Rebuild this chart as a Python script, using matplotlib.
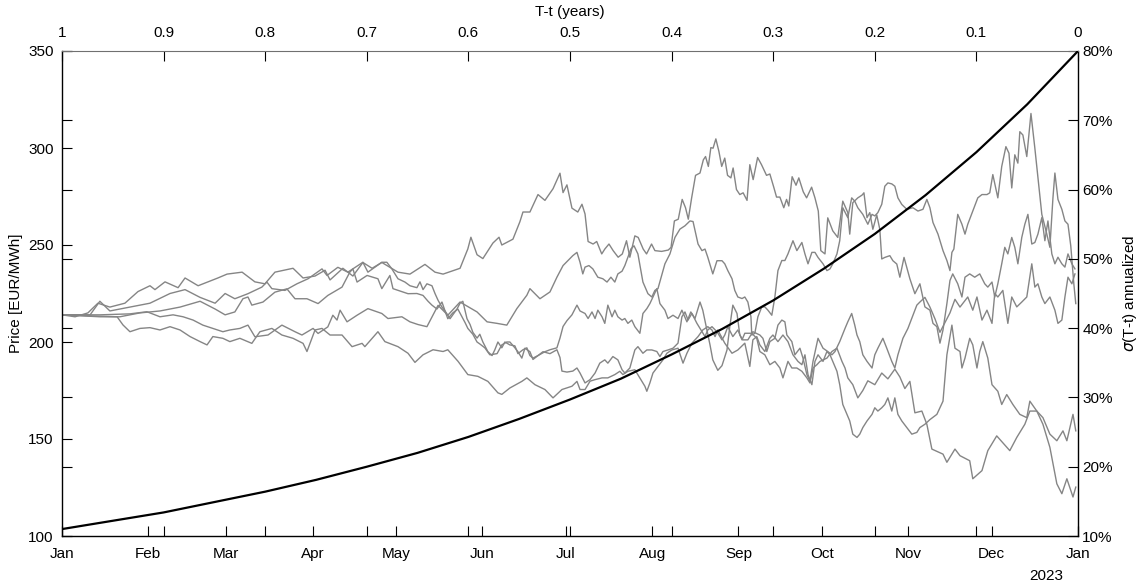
import numpy as np
import matplotlib
matplotlib.use("Agg")
import matplotlib.pyplot as plt

plt.rcParams['font.family'] = ['Liberation Sans', 'DejaVu Sans']
plt.rcParams['font.size'] = 11
plt.rcParams['mathtext.fontset'] = 'dejavusans'

# ---- simulated forward price paths: (day of 2022, price in EUR/MWh) ----
path_a = [(0, 214), (4.7, 213), (9.3, 215), (12.9, 220), (17.2, 218), (22.6, 220), (27.3, 226),
          (31.6, 229), (33.4, 227), (37.0, 231), (41.7, 228), (44.2, 233), (48.9, 229), (56.0, 233),
          (59.3, 235), (64.7, 236), (69.3, 231), (72.9, 230), (76.5, 236), (83.0, 238), (86.6, 233),
          (90.9, 234), (94.5, 237), (96.3, 232), (100.9, 238), (104.5, 234), (108.1, 241),
          (111.4, 238), (114.9, 241), (120.7, 236), (125.0, 235), (130.4, 240), (134.0, 236),
          (136.9, 235), (143.0, 238), (145.8, 248), (146.9, 254), (149.1, 245), (151.2, 243),
          (154.8, 251), (157.0, 254), (158.0, 250), (162.0, 253), (164.5, 262), (165.6, 267),
          (168.1, 267), (171.0, 276), (173.5, 273), (176.4, 279), (178.9, 287), (180.0, 277),
          (181.4, 281), (183.2, 269), (185.3, 267), (186.8, 271), (187.9, 266),
          (189.0, 251.8), (190.8, 250.5), (192.1, 251.8), (193.9, 245.4), (195.0, 247.9),
          (196.5, 250.5), (198.0, 247.1), (199.8, 243.7), (201.3, 245.4), (202.8, 252.2),
          (204.0, 243.7), (205.8, 254.7), (207.0, 253.9), (208.8, 247.9), (210.0, 245.4),
          (211.8, 250.5), (213.0, 247.1), (215.4, 246.7), (217.8, 247.4), (218.8, 248.8),
          (220.0, 262.4), (221.4, 263.3), (222.8, 273.5), (224.0, 269.2), (225.0, 263.3),
          (226.2, 274.3), (227.6, 285.9), (229.2, 287.1), (230.4, 293.9), (231.2, 295.6),
          (232.2, 290.5), (233.1, 300.2), (233.9, 299.9), (234.9, 304.7), (236.0, 298.2),
          (237.0, 290.5), (238.1, 294.8), (239.1, 285.9), (240.3, 284.6), (241.1, 289.7),
          (242.3, 278.6), (243.5, 276.0), (244.7, 276.9), (246.1, 273.0), (247.1, 291.4),
          (248.3, 283.7), (249.9, 295.1), (251.3, 291.4), (253.1, 285.9), (254.3, 286.6),
          (255.7, 279.8), (256.7, 274.7), (257.9, 274.7), (259.3, 269.2), (260.3, 273.5),
          (261.1, 270.1), (262.3, 285.2), (263.7, 280.8), (264.7, 284.6), (266.3, 277.4),
          (267.5, 274.3), (269.3, 279.8), (270.5, 274.3), (271.7, 267.5), (272.6, 247.1),
          (274.1, 245.4), (275.1, 264.0), (276.9, 257.3), (278.7, 253.9), (280.5, 272.6),
          (282.3, 266.7), (283.0, 255.6), (284.1, 271.8), (285.9, 274.3), (287.4, 275.7),
          (288.1, 276.9), (289.2, 264.1), (290.2, 266.7), (291.3, 258.1), (292.7, 265.5),
          (293.8, 258.1), (294.5, 242.8), (295.6, 243.6), (297.4, 244.5), (298.5, 241.9),
          (299.9, 240.2), (301.0, 233.4), (302.5, 243.6), (304.6, 232.6), (306.4, 224.9),
          (308.2, 230.0), (310.0, 218.1), (311.8, 216.4), (312.9, 209.6), (314.3, 207.9),
          (315.4, 199.4), (316.5, 206.2), (317.9, 219.8), (319.0, 231.7), (320.0, 235.1),
          (321.8, 230.0), (323.3, 223.2), (324.4, 233.4), (326.1, 235.1), (327.9, 233.4),
          (329.7, 235.1), (331.5, 230.0), (332.6, 228.3), (334.1, 230.9), (335.1, 223.2),
          (336.2, 230.0), (337.6, 240.3), (338.7, 248.8), (339.8, 245.4), (341.2, 253.9),
          (342.3, 248.8), (343.4, 240.3), (344.8, 253.9), (345.9, 260.7), (347.0, 265.8),
          (348.4, 250.5), (349.5, 251.3), (350.6, 255.6), (352.0, 264.1), (353.1, 252.2),
          (354.2, 262.4), (355.6, 245.4), (356.7, 240.3), (357.8, 243.7), (359.2, 240.3),
          (360.3, 238.6), (361.4, 245.4), (362.8, 240.3), (363.9, 237.7)]

path_b = [(0, 214), (13.6, 214), (24.4, 214.5), (30.5, 215.6), (35.2, 213), (39.9, 214),
          (43.5, 213), (47.1, 211.3), (50.6, 208.7), (54.2, 207), (57.8, 205.3), (60.3, 206.2),
          (63.9, 207), (66.8, 208.7), (69.3, 202.7), (74.0, 203.6), (79.0, 208.7), (83.7, 205.3),
          (86.2, 203.6), (90.2, 207), (92.0, 204.4), (95.5, 207.8), (97.3, 213.8), (98.8, 211.3),
          (99.9, 216.4), (102.4, 210.4), (106.0, 213.8), (109.9, 217.2), (114.9, 214.7),
          (117.1, 212.1), (122.1, 213), (125.0, 210.4), (127.9, 209), (131.1, 207.9),
          (135.1, 218.9), (138.6, 213.8), (143.0, 220.6), (149.1, 215.5), (152.7, 210.4),
          (156.3, 209.6), (159.8, 208.7), (163.4, 217.2), (167.0, 224.1), (168.1, 227.5),
          (171.7, 222.3), (175.3, 225.8), (177.8, 233.4), (180.0, 239.4), (183.5, 244.5),
          (185.0, 246.2), (186.1, 241.1), (187.1, 235.1), (187.9, 238.6),
          (189.3, 239.4), (190.7, 237.7), (192.5, 233.4), (194.3, 232.6), (195.8, 230.9),
          (197.2, 233.4), (198.6, 230.9), (199.7, 235.1), (201.2, 236.5), (202.2, 239.4),
          (203.3, 243.7), (204.4, 248.0), (205.5, 249.6), (206.9, 245.4), (208.7, 230.9),
          (210.5, 224.9), (211.9, 223.2), (213.0, 226.6), (214.1, 227.5), (216.6, 240.3),
          (218.4, 245.4), (220.2, 253.9), (222.0, 258.2), (223.8, 259.9), (225.6, 262.4),
          (226.7, 262.1), (227.7, 255.6), (228.5, 250.5), (229.9, 247.1), (231.0, 247.9),
          (232.0, 243.7), (233.8, 235.1), (235.3, 241.9), (237.1, 241.9), (238.1, 240.3),
          (239.2, 236.8), (240.7, 232.6), (241.7, 226.6), (242.8, 223.2), (244.3, 222.4),
          (245.3, 223.2), (246.4, 220.6), (247.5, 213.0), (247.8, 203.6), (248.9, 204.5),
          (250.0, 213.0), (251.4, 218.1), (252.5, 218.1), (253.6, 216.4), (255.0, 213.8),
          (256.1, 223.2), (257.2, 236.8), (258.6, 242.0), (259.7, 242.0), (260.8, 245.4),
          (262.6, 252.2), (264.0, 247.1), (265.8, 251.3), (266.9, 245.4), (268.0, 240.3),
          (269.4, 246.2), (270.5, 246.2), (271.6, 243.6), (273.4, 240.3), (274.8, 236.8),
          (275.9, 237.7), (276.9, 240.3), (278.4, 245.4), (279.4, 252.2), (280.5, 269.2),
          (282.3, 264.1), (283.7, 274.3), (284.8, 272.6), (285.9, 269.2), (287.7, 265.8),
          (289.5, 260.7), (291.0, 265.8), (292.0, 265.0), (293.1, 266.7), (294.5, 271.0),
          (295.6, 280.3), (296.7, 282.0), (298.1, 281.5), (299.2, 280.3), (300.3, 274.3),
          (301.7, 270.9), (303.5, 268.4), (305.7, 269.2), (307.5, 267.5), (309.3, 268.4),
          (310.7, 273.5), (311.8, 269.2), (312.9, 261.6), (314.7, 255.6), (316.5, 247.1),
          (317.9, 242.0), (319.0, 236.8), (319.7, 246.2), (320.4, 247.9), (321.8, 265.8),
          (323.3, 260.7), (324.4, 255.6), (325.4, 260.7), (327.2, 267.5), (329.0, 274.3),
          (330.5, 276.0), (332.3, 276.0), (333.3, 276.9), (334.4, 286.3), (336.2, 274.3),
          (337.6, 290.5), (339.1, 300.7), (340.2, 297.3), (341.2, 279.4), (342.3, 296.5),
          (343.4, 292.2), (344.1, 308.4), (345.2, 306.7), (346.6, 295.6), (348.1, 317.8),
          (349.5, 299.9), (350.9, 281.1), (352.0, 265.8), (353.8, 255.6), (354.9, 248.8),
          (356.0, 274.3), (356.7, 287.1), (357.8, 273.5), (359.2, 268.4), (360.3, 262.4),
          (361.4, 260.7), (362.4, 249.6), (363.5, 230.0), (364.2, 219.8)]

path_c = [(0, 214), (10.1, 214), (13.6, 221), (17.2, 216), (24.4, 218), (31.6, 220), (38.8, 225),
          (44.2, 227), (49.6, 223), (55.0, 220), (58.6, 225), (62.1, 222.3), (66.8, 224.9),
          (71.8, 228.3), (73.6, 230.9), (75.4, 227.5), (80.1, 226.6), (84.4, 230), (88.4, 232.6),
          (93.4, 237.7), (95.2, 234.3), (99.1, 238.5), (102.7, 236), (106.3, 239.4),
          (108.1, 241.1), (109.9, 236), (114.9, 241.1), (116.7, 241.1), (118.5, 237.7),
          (120.7, 232.6), (123.2, 230.9), (125.0, 229), (127.5, 228), (128.6, 231), (129.7, 227),
          (131.1, 230), (132.9, 229), (134.0, 225), (135.1, 221.5), (136.5, 218), (137.6, 216),
          (139.4, 212), (141.9, 217), (143.0, 220), (144.0, 221), (145.5, 212), (146.6, 209),
          (147.6, 205), (149.1, 202), (150.1, 204), (151.2, 200), (153.0, 195), (154.5, 193),
          (155.5, 196), (156.6, 200), (158.0, 197), (159.1, 200), (160.9, 198.5), (162.7, 198),
          (163.8, 194), (165.6, 196), (167.0, 197), (168.1, 193), (169.2, 191.7), (171.0, 193),
          (172.8, 195), (175.3, 194), (177.8, 196), (178.9, 192), (179.6, 185), (181.4, 184.5),
          (183.5, 185), (185.0, 186.6), (186.1, 184), (187.9, 178.9),
          (189.7, 180.6), (191.5, 184.0), (193.2, 189.1), (195.0, 190.8), (196.1, 189.1),
          (197.9, 192.5), (199.7, 190.8), (201.2, 185.7), (202.2, 184.0), (204.0, 186.6),
          (205.8, 195.9), (206.9, 197.6), (208.7, 194.2), (210.1, 195.9), (211.9, 195.9),
          (213.7, 195.1), (214.8, 192.5), (215.9, 195.1), (217.7, 195.9), (219.5, 196.8),
          (221.3, 199.4), (222.7, 213.0), (223.8, 215.5), (224.9, 211.3), (226.3, 214.7),
          (228.1, 209.6), (229.2, 207.0), (231.0, 202.8), (232.0, 206.2), (233.5, 207.9),
          (235.3, 205.3), (237.1, 201.1), (238.1, 203.6), (239.2, 207.9), (241.0, 202.8),
          (242.8, 206.2), (244.3, 201.1), (245.3, 204.5), (247.8, 204.5), (249.6, 201.9),
          (250.7, 195.1), (252.5, 193.4), (254.3, 188.3), (256.1, 190.0), (257.9, 186.6),
          (259.0, 181.5), (260.8, 190.0), (262.2, 186.6), (264.0, 186.6), (265.8, 184.9),
          (267.6, 181.5), (268.7, 178.9), (269.8, 186.6), (271.2, 188.3), (272.3, 190.0),
          (274.8, 191.7), (276.6, 195.1), (278.4, 196.8), (280.2, 190.0), (281.3, 186.6),
          (282.3, 181.5), (284.1, 178.0), (285.9, 171.2), (287.7, 175.0), (289.5, 180.0),
          (292.0, 178.0), (294.5, 184.0), (296.7, 181.0), (299.2, 186.0), (301.0, 182.0),
          (302.8, 176.0), (304.6, 179.7), (306.4, 163.5), (308.9, 164.4), (310.7, 157.6),
          (312.5, 144.8), (316.5, 142.2), (317.9, 138.0), (320.8, 144.8), (322.6, 141.4),
          (326.1, 138.8), (327.2, 129.5), (330.5, 133.7), (332.6, 144.0), (335.8, 151.6),
          (340.5, 144.0), (343.0, 150.8), (345.9, 157.6), (347.7, 164.4), (350.2, 164.4),
          (352.4, 157.6), (354.9, 145.7), (357.4, 126.9), (359.2, 121.8), (361.0, 129.5),
          (363.2, 120.1), (364.2, 125.2)]

path_d = [(0, 214), (13.6, 213), (20.8, 213), (28.0, 215), (35.2, 216), (42.4, 218), (49.6, 221),
          (55.0, 217), (58.6, 214), (62.1, 215.5), (65.0, 222.3), (66.8, 223.2), (68.2, 219),
          (72.2, 220.6), (76.5, 225.7), (80.8, 227.4), (83.7, 222.3), (88.0, 222.3),
          (92.0, 219.8), (95.5, 224), (100.6, 228.3), (103.4, 236), (104.5, 237.7), (106.0, 230.9),
          (109.6, 234.3), (113.5, 232.6), (114.9, 227.5), (117.8, 234.3), (118.9, 227.5),
          (124.3, 224.9), (127.5, 225), (129.7, 224), (131.5, 221), (132.9, 219), (134.7, 217),
          (136.5, 220.6), (137.6, 216), (138.6, 212), (140.4, 215), (142.2, 217), (143.7, 213),
          (144.8, 210), (145.8, 207), (147.6, 204), (149.1, 200), (150.1, 199), (151.9, 197),
          (153.7, 193.4), (156.3, 194), (158.0, 198.5), (159.8, 200), (160.9, 200), (162.7, 197),
          (163.8, 195), (165.2, 191.7), (166.3, 196.8), (168.1, 195), (169.2, 191), (171.0, 193),
          (173.5, 195), (175.3, 196), (177.8, 197), (178.9, 202), (180.0, 208), (181.4, 211),
          (183.2, 214), (185.0, 219), (186.1, 216), (187.9, 214.7),
          (189.0, 212.1), (190.4, 215.5), (191.5, 212.1), (192.5, 216.4), (194.0, 213.0),
          (195.0, 209.6), (196.1, 219.0), (197.6, 213.0), (198.6, 216.4), (199.7, 213.0),
          (201.2, 211.3), (202.2, 212.1), (203.3, 209.6), (204.7, 211.3), (205.8, 207.9),
          (207.6, 204.5), (208.7, 214.7), (210.1, 217.2), (211.2, 219.8), (212.3, 223.2),
          (213.7, 227.5), (214.8, 219.8), (216.6, 216.4), (217.7, 212.1), (219.5, 213.8),
          (221.3, 212.1), (222.7, 216.4), (224.5, 210.4), (225.9, 215.5), (227.4, 212.1),
          (229.2, 220.6), (230.2, 216.4), (231.7, 206.2), (232.8, 198.5), (233.8, 190.8),
          (235.6, 185.4), (237.1, 187.8), (238.9, 195.9), (239.9, 207.9), (241.0, 219.0),
          (242.5, 214.7), (243.5, 203.6), (244.6, 201.1), (246.4, 201.1), (248.2, 205.3),
          (250.7, 203.6), (251.8, 201.9), (253.2, 195.1), (254.3, 200.2), (256.1, 201.9),
          (257.2, 208.7), (258.6, 211.3), (259.7, 210.4), (260.4, 203.6), (262.2, 200.2),
          (263.3, 193.4), (265.1, 196.8), (266.2, 191.7), (267.6, 183.2), (268.7, 179.8),
          (269.8, 190.0), (271.6, 201.9), (273.4, 196.8), (275.1, 195.1), (276.6, 193.4),
          (277.7, 195.1), (279.4, 200.2), (281.3, 207.0), (282.3, 210.4), (283.7, 214.7),
          (284.8, 208.7), (285.6, 203.6), (286.6, 200.2), (287.7, 193.4), (289.2, 190.0),
          (291.0, 186.6), (292.0, 193.4), (293.1, 196.8), (294.9, 201.9), (296.3, 196.8),
          (298.1, 190.0), (299.2, 186.6), (300.3, 193.4), (302.1, 201.9), (303.9, 207.0),
          (305.7, 213.8), (307.1, 219.0), (308.2, 220.6), (310.0, 223.0), (311.8, 218.0),
          (313.6, 212.0), (315.4, 205.0), (317.2, 210.0), (319.0, 215.0), (320.8, 222.0),
          (322.6, 218.0), (325.4, 223.2), (327.2, 216.4), (328.7, 223.2), (330.5, 211.3),
          (332.3, 216.4), (334.1, 209.6), (335.1, 225.0), (336.2, 223.2), (338.0, 226.6),
          (339.8, 209.6), (341.2, 223.2), (343.0, 218.1), (344.8, 220.6), (346.6, 223.2),
          (348.4, 240.3), (349.5, 228.3), (350.6, 230.0), (352.0, 223.2), (353.1, 219.8),
          (354.9, 223.2), (356.7, 216.4), (357.8, 209.6), (359.2, 211.3), (360.3, 223.2),
          (361.4, 233.4), (362.8, 230.0), (363.9, 235.1)]

path_e = [(0, 214), (10, 213.5), (19.8, 213), (21.9, 208.8), (24.4, 205.3), (28.0, 207),
          (31.6, 207.4), (35.2, 206.2), (38.8, 207.9), (42.4, 206.2), (46.0, 202.8), (49.6, 200.2),
          (52.1, 198.5), (54.2, 202.8), (57.8, 201.9), (60.3, 200.2), (63.9, 201.9), (68.2, 199.3),
          (71.1, 205.3), (75.4, 207), (79.0, 203.6), (83.0, 201.9), (86.6, 199.3), (88.0, 195.1),
          (90.9, 206.2), (93.4, 207), (96.3, 203.6), (100.6, 203.6), (104.2, 197.6),
          (107.8, 199.3), (108.8, 197.6), (113.5, 205.3), (116.0, 200.2), (120.7, 197.6),
          (124.3, 194.2), (126.8, 189.5), (129.7, 193.4), (133.3, 196), (136.9, 195.1),
          (138.6, 196), (142.3, 190), (145.8, 183.2), (149.4, 182.3), (153.0, 179.7),
          (156.6, 173.8), (158.0, 173), (160.9, 176.3), (165.2, 179.7), (167.0, 181.5),
          (169.9, 178), (173.5, 175.5), (176.4, 171.2), (179.6, 175.5), (183.2, 177.2),
          (185.0, 179.7), (186.1, 175.5), (187.9, 175.5),
          (189.7, 179.8), (191.5, 180.6), (194.0, 181.5), (196.1, 181.5), (198.6, 183.2),
          (200.4, 184.9), (201.5, 183.2), (203.3, 184.9), (205.8, 185.7), (207.6, 181.5),
          (209.4, 177.2), (210.1, 174.6), (211.2, 178.9), (212.3, 184.0), (214.1, 187.4),
          (215.9, 190.8), (217.3, 194.2), (219.1, 195.9), (221.3, 196.8), (223.1, 189.1),
          (224.5, 194.2), (226.3, 199.4), (228.5, 202.8), (230.2, 206.2), (232.0, 207.9),
          (233.5, 206.2), (234.6, 202.8), (235.6, 206.2), (238.1, 199.4), (240.7, 194.2),
          (242.8, 195.9), (245.3, 199.4), (247.1, 187.4), (248.2, 201.1), (249.6, 202.8),
          (250.7, 198.5), (252.5, 195.1), (254.3, 201.9), (255.4, 203.6), (257.2, 200.2),
          (259.0, 203.6), (260.8, 200.2), (262.6, 193.4), (264.4, 190.0), (265.8, 188.3),
          (266.9, 193.4), (268.0, 183.2), (269.4, 178.0), (270.5, 190.0), (271.6, 193.4),
          (273.4, 190.0), (274.8, 195.1), (275.9, 193.4), (276.9, 190.0), (278.4, 184.9),
          (279.4, 178.0), (280.5, 167.8), (282.0, 162.7), (283.0, 159.3), (284.1, 152.5),
          (285.6, 150.8), (286.6, 152.5), (287.7, 155.9), (289.2, 159.3), (291.0, 162.7),
          (292.0, 166.1), (293.1, 164.4), (294.5, 166.1), (295.6, 167.8), (296.7, 171.2),
          (298.1, 164.4), (299.2, 171.2), (300.3, 162.7), (301.7, 159.3), (303.5, 155.9),
          (305.3, 152.5), (307.1, 153.4), (308.2, 155.9), (310.0, 157.6), (311.8, 160.0),
          (314.3, 162.7), (316.5, 169.5), (317.9, 193.4), (319.7, 208.7), (320.8, 196.8),
          (322.6, 195.1), (323.3, 186.6), (324.4, 191.7), (326.1, 201.9), (327.2, 198.5),
          (328.7, 186.6), (329.7, 195.1), (330.8, 200.2), (332.6, 191.7), (334.1, 178.0),
          (336.2, 174.6), (337.6, 167.8), (339.4, 172.9), (341.6, 167.8), (344.1, 162.7),
          (346.6, 161.0), (347.7, 169.5), (350.2, 164.4), (352.4, 161.0), (354.9, 152.5),
          (357.4, 149.1), (359.6, 154.2), (361.0, 149.1), (363.2, 162.7), (364.2, 154.2)]

paths = [path_a, path_b, path_c, path_d, path_e]

# ---- volatility term structure sigma(T-t), annualized, in percent ----
tau = [1.0, 0.95, 0.9, 0.85, 0.8, 0.75, 0.7, 0.65, 0.6, 0.55, 0.5,
       0.45, 0.4, 0.35, 0.3, 0.25, 0.2, 0.15, 0.1, 0.05, 0.0]
sigma = [11.0, 12.2, 13.4, 14.9, 16.4, 18.1, 20.0, 22.0, 24.3, 26.9, 29.7,
         32.7, 36.2, 39.9, 44.0, 48.6, 53.6, 59.2, 65.4, 72.3, 80.0]

month_days = [0, 31, 59, 90, 120, 151, 181, 212, 243, 273, 304, 334, 365]
month_labels = ['Jan', 'Feb', 'Mar', 'Apr', 'May', 'Jun', 'Jul', 'Aug',
                'Sep', 'Oct', 'Nov', 'Dec', 'Jan']
price_ticks = [100, 150, 200, 250, 300, 350]
tau_ticks = [1, 0.9, 0.8, 0.7, 0.6, 0.5, 0.4, 0.3, 0.2, 0.1, 0]
tau_labels = ['1', '0.9', '0.8', '0.7', '0.6', '0.5', '0.4', '0.3', '0.2', '0.1', '0']
sigma_ticks = [10, 20, 30, 40, 50, 60, 70, 80]

W, H = 1146, 587
fig = plt.figure(figsize=(W / 100, H / 100), dpi=100)
rect = [62 / W, 51 / H, 1016 / W, 485 / H]

ax = fig.add_axes(rect)
for path in paths:
    days, prices = np.array(path).T
    ax.plot(days, prices, color='#858585', lw=1.0, zorder=2)
ax.set_xlim(0, 365)
ax.set_ylim(100, 350)
ax.set_xticks(month_days)
ax.set_xticklabels(month_labels)
ax.set_yticks(price_ticks)
ax.tick_params(direction='in', length=7.5, width=0.8, colors='black',
               labelsize=11, top=False, right=False)
ax.tick_params(axis='x', pad=8)
ax.tick_params(axis='y', pad=6)
ax.set_ylabel('Price [EUR/MWh]', fontsize=11, labelpad=4)
for s in ['top', 'right']:
    ax.spines[s].set_visible(False)
for s in ['left', 'bottom']:
    ax.spines[s].set_linewidth(1.0)

# secondary axes: time to maturity on top, volatility on the right
ax2 = fig.add_axes(rect, facecolor='none')
ax2.plot(tau, sigma, color='black', lw=1.6, zorder=3)
ax2.set_xlim(1, 0)
ax2.set_ylim(10, 80)
ax2.set_xticks(tau_ticks)
ax2.set_xticklabels(tau_labels)
ax2.set_yticks(sigma_ticks)
ax2.set_yticklabels([f'{v}%' for v in sigma_ticks])
ax2.xaxis.tick_top()
ax2.yaxis.tick_right()
ax2.tick_params(axis='x', direction='in', length=7.5, width=0.8, top=True, bottom=True,
                labeltop=True, labelbottom=False, labelsize=11, pad=8)
ax2.tick_params(axis='y', direction='in', length=7.5, width=0.8, left=True, right=True,
                labelleft=False, labelright=True, labelsize=11, pad=3)
ax2.xaxis.set_label_position('top')
ax2.yaxis.set_label_position('right')
ax2.set_xlabel('T-t (years)', fontsize=11, labelpad=7)
ax2.set_ylabel(r'$\sigma$(T-t) annualized', fontsize=11, labelpad=6)
ax2.spines['top'].set_color('#707070')
ax2.spines['top'].set_linewidth(0.8)
ax2.spines['right'].set_linewidth(1.0)
ax2.spines['left'].set_visible(False)
ax2.spines['bottom'].set_visible(False)

fig.text(1063 / W, 1 - 576 / H, '2023', ha='right', va='center', fontsize=11)

fig.savefig('out.png', dpi=100)
